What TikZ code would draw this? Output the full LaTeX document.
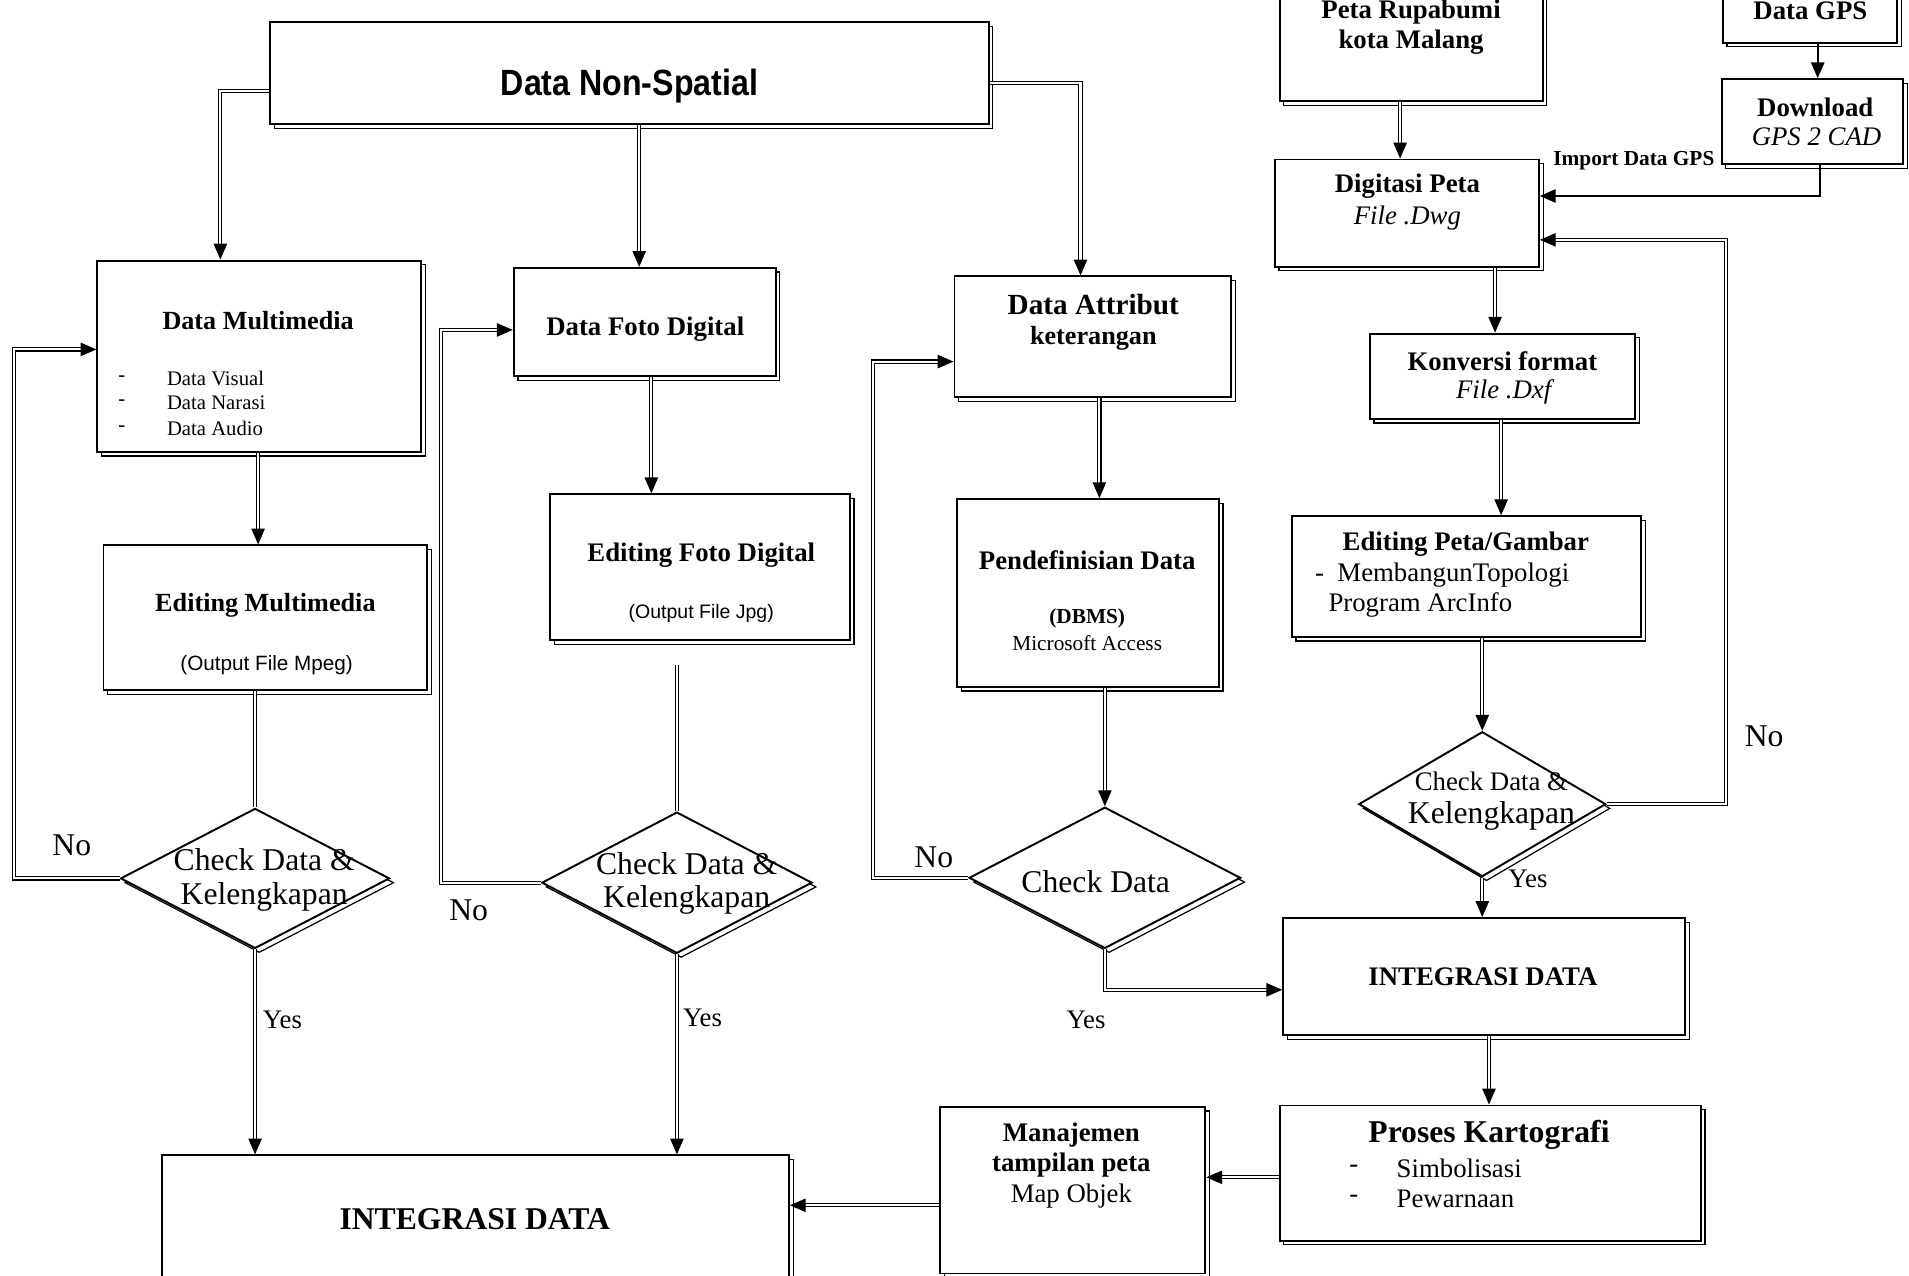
\documentclass[tikz,border=0pt]{standalone}
\usepackage{fontspec}
\setmainfont{Liberation Serif}
\setsansfont{Liberation Sans}
\usetikzlibrary{arrows.meta,shapes.geometric,shadows}
\newcommand\fz[1]{\fontsize{#1}{#1}\selectfont}
\begin{document}
\begin{tikzpicture}[x=1pt,y=-1pt,
  shd/.style={copy shadow={shadow xshift=3.5pt,shadow yshift=-3.5pt,draw=black,fill=white,line width=1pt}},
  box/.style={draw,line width=1.6pt,fill=white,inner sep=0pt,shd},
  dia/.style={diamond,draw,line width=1.6pt,fill=white,inner sep=0pt,shd},
  conn/.style={double,double distance=1.7pt,line width=0.9pt,-{Triangle[length=13pt,width=11pt]}},
  plain/.style={double,double distance=1.7pt,line width=0.9pt},
  sconn/.style={line width=1.4pt,-{Triangle[length=13pt,width=11pt]}},
  txt/.style={inner sep=0pt,font=\fz{22}},
  btxt/.style={inner sep=0pt,font=\fz{22}\bfseries},
  lab/.style={inner sep=0pt,font=\fz{26}}]
\useasboundingbox (0,0) rectangle (1568,1048);
\clip (0,0) rectangle (1568,1048);
% boxes
\node[box,minimum width=590,minimum height=84] (ns) at (517,60) {};
\node[box,minimum width=216,minimum height=113] (rupa) at (1159,26.5) {};
\node[box,minimum width=143,minimum height=65] (gps) at (1486.5,2.5) {};
\node[box,minimum width=149,minimum height=70] (dl) at (1488.5,100) {};
\node[box,minimum width=217,minimum height=88] (dig) at (1155.5,175) {};
\node[box,minimum width=218,minimum height=70] (konv) at (1234,309) {};
\node[box,minimum width=287,minimum height=99] (edpeta) at (1204.5,473.5) {};
\node[dia,minimum width=203,minimum height=119] (dr) at (1217.5,660.5) {};
\node[box,minimum width=330,minimum height=96] (intR) at (1219,802) {};
\node[box,minimum width=346,minimum height=111] (kart) at (1224,963.5) {};
\node[box,minimum width=218,minimum height=137] (man) at (881,977.5) {};
\node[box,minimum width=515,minimum height=111] (intL) at (390.5,1004.5) {};
\node[box,minimum width=266,minimum height=157] (mm) at (213,292.5) {};
\node[box,minimum width=266,minimum height=119] (edmm) at (218,507.5) {};
\node[box,minimum width=215,minimum height=89] (foto) at (529.5,264.5) {};
\node[box,minimum width=246,minimum height=120] (edfoto) at (575,466) {};
\node[box,minimum width=227,minimum height=99] (attr) at (897.5,276.5) {};
\node[box,minimum width=215,minimum height=154] (pend) at (893.5,487) {};
\node[dia,minimum width=221,minimum height=115] (d1) at (209.5,721.5) {};
\node[dia,minimum width=222,minimum height=116] (d2) at (556,725) {};
\node[dia,minimum width=223,minimum height=116] (d3) at (907.5,721) {};
% texts
\node[inner sep=0pt,font=\fz{30}\sffamily\bfseries,xscale=0.88,transform shape] (tns) at (517,71) {Data Non-Spatial};
\node[btxt] (t1) at (1159,10) {Peta Rupabumi};
\node[btxt] (t2) at (1159,35) {kota Malang};
\node[btxt] (t3) at (1487,9) {Data GPS};
\node[btxt] (t4) at (1491,88) {Download};
\node[txt,font=\fz{22}\itshape] (t5) at (1492,112) {GPS 2 CAD};
\node[inner sep=0pt,font=\fz{17.5}\bfseries] (t6) at (1342,132) {Import Data GPS};
\node[btxt] (t7) at (1156,153) {Digitasi Peta};
\node[txt,font=\fz{22}\itshape] (t8) at (1156,179) {File .Dwg};
\node[btxt] (t9) at (1234,297) {Konversi format};
\node[txt,font=\fz{22}\itshape] (t10) at (1235,322) {File .Dxf};
\node[btxt] (t11) at (1204,447) {Editing Peta/Gambar};
\node[txt,anchor=west] (t12) at (1080,472) {-\ \ MembangunTopologi};
\node[txt,anchor=west] (t13) at (1091,497) {Program ArcInfo};
\node[txt] (t14) at (1225,642) {Check Data \&};
\node[lab] (t15) at (1225,670) {Kelengkapan};
\node[btxt] (t16) at (1218,802) {INTEGRASI DATA};
\node[inner sep=0pt,font=\fz{26}\bfseries] (t17) at (1223,932) {Proses Kartografi};
\node[txt] (t18) at (1112,960) {-};
\node[txt] (t19) at (1112,985) {-};
\node[txt,anchor=west] (t20) at (1147,960) {Simbolisasi};
\node[txt,anchor=west] (t21) at (1147,985) {Pewarnaan};
\node[btxt] (t22) at (880,932) {Manajemen};
\node[btxt] (t23) at (880,957) {tampilan peta};
\node[txt] (t24) at (880,982) {Map Objek};
\node[inner sep=0pt,font=\fz{26}\bfseries] (t25) at (390,1001) {INTEGRASI DATA};
\node[btxt,font=\fz{21.5}\bfseries] (t26) at (212,263) {Data Multimedia};
\foreach \yy/\tt [count=\i] in {311/Data Visual,331/Data Narasi,352/Data Audio}{
  \node[inner sep=0pt,font=\fz{17}] (dash\i) at (100,\yy) {-};
  \node[inner sep=0pt,font=\fz{17},anchor=west] (item\i) at (137,\yy) {\tt};
}
\node[btxt,font=\fz{21.5}\bfseries] (t27) at (218,497) {Editing Multimedia};
\node[inner sep=0pt,font=\fz{17}\sffamily] (t28) at (219,546) {(Output File Mpeg)};
\node[btxt] (t29) at (530,270) {Data Foto Digital};
\node[btxt] (t30) at (576,456) {Editing Foto Digital};
\node[inner sep=0pt,font=\fz{16}\sffamily] (t31) at (576,504) {(Output File Jpg)};
\node[inner sep=0pt,font=\fz{24}\bfseries] (t32) at (898,250) {Data Attribut};
\node[btxt,font=\fz{21.5}\bfseries] (t33) at (898,278) {keterangan};
\node[btxt] (t34) at (893,460) {Pendefinisian Data};
\node[inner sep=0pt,font=\fz{17.5}\bfseries] (t35) at (893,508) {(DBMS)};
\node[inner sep=0pt,font=\fz{17.5}] (t36) at (893,528) {Microsoft Access};
\node[lab] (t37) at (217,706) {Check Data \&};
\node[lab] (t38) at (217,737) {Kelengkapan};
\node[lab] (t39) at (564,709) {Check Data \&};
\node[lab] (t40) at (564,739) {Kelengkapan};
\node[lab] (t41) at (900,724) {Check Data};
% Yes / No labels
\node[lab] (no1) at (59,694) {No};
\node[lab] (no2) at (385,748) {No};
\node[lab] (no3) at (767,704) {No};
\node[lab] (no4) at (1449,605) {No};
\node[txt] (yes1) at (232,838) {Yes};
\node[txt] (yes2) at (577,836) {Yes};
\node[txt] (yes3) at (892,838) {Yes};
\node[txt] (yes4) at (1255,722) {Yes};
% connectors
\draw[conn] ([yshift=-15]ns.west) -| ([xshift=-32]mm.north);
\draw[conn] ([xshift=8]ns.south) -- ([xshift=8]ns.south |- foto.north);
\draw[conn] ([yshift=-8]ns.east) -| ([xshift=-10]attr.north);
\draw[conn] ([xshift=-1]mm.south) -- ([xshift=-1]mm.south |- edmm.north);
\draw[conn] ([xshift=5.5]foto.south) -- ([xshift=5.5]foto.south |- edfoto.north);
\draw[conn] ([xshift=5.5]attr.south) -- ([xshift=5.5]attr.south |- pend.north);
\draw[conn] (d3.north |- pend.south) -- (d3.north);
\draw[plain] (d1.north |- edmm.south) -- (d1.north);
\draw[plain] ([yshift=-19]d2.north |- edfoto.south) -- (d2.north);
\draw[conn] (d1.south) -- (d1.south |- intL.north);
\draw[conn] (d2.south) -- (d2.south |- intL.north);
\draw[conn] (d1.west) -- ++(-87,0) |- ([yshift=5.5]mm.west);
\draw[conn] (d2.west) -- ++(-82,0) |- ([yshift=-6.5]foto.west);
\draw[conn] (d3.west) -- ++(-78,0) |- ([yshift=-20.5]attr.west);
\draw[conn] (d3.south) |- ([yshift=-11]intR.west);
\draw[conn] ([xshift=-9]rupa.south) -- ([xshift=-9]rupa.south |- dig.north);
\draw[sconn] ([xshift=6.5]gps.south) -- ([xshift=6.5]gps.south |- dl.north);
\draw[sconn] ([xshift=6.5]dl.south) |- ([yshift=14]dig.east);
\draw[conn] ([xshift=72.5]dig.south) -- ([xshift=72.5]dig.south |- konv.north);
\draw[conn] ([xshift=-1]konv.south) -- ([xshift=-1]konv.south |- edpeta.north);
\draw[conn] (dr.north |- edpeta.south) -- (dr.north);
\draw[conn] (dr.east) -- ++(98,0) |- ([yshift=-22]dig.east);
\draw[conn] (dr.south) -- (dr.south |- intR.north);
\draw[conn] ([xshift=4]intR.south) -- ([xshift=4]intR.south |- kart.north);
\draw[conn] ([yshift=-3.5]kart.west) -- ([yshift=-3.5]kart.west -| man.east);
\draw[conn] ([yshift=-12.5]man.west) -- ([yshift=-12.5]man.west -| intL.east);
\end{tikzpicture}
\end{document}
